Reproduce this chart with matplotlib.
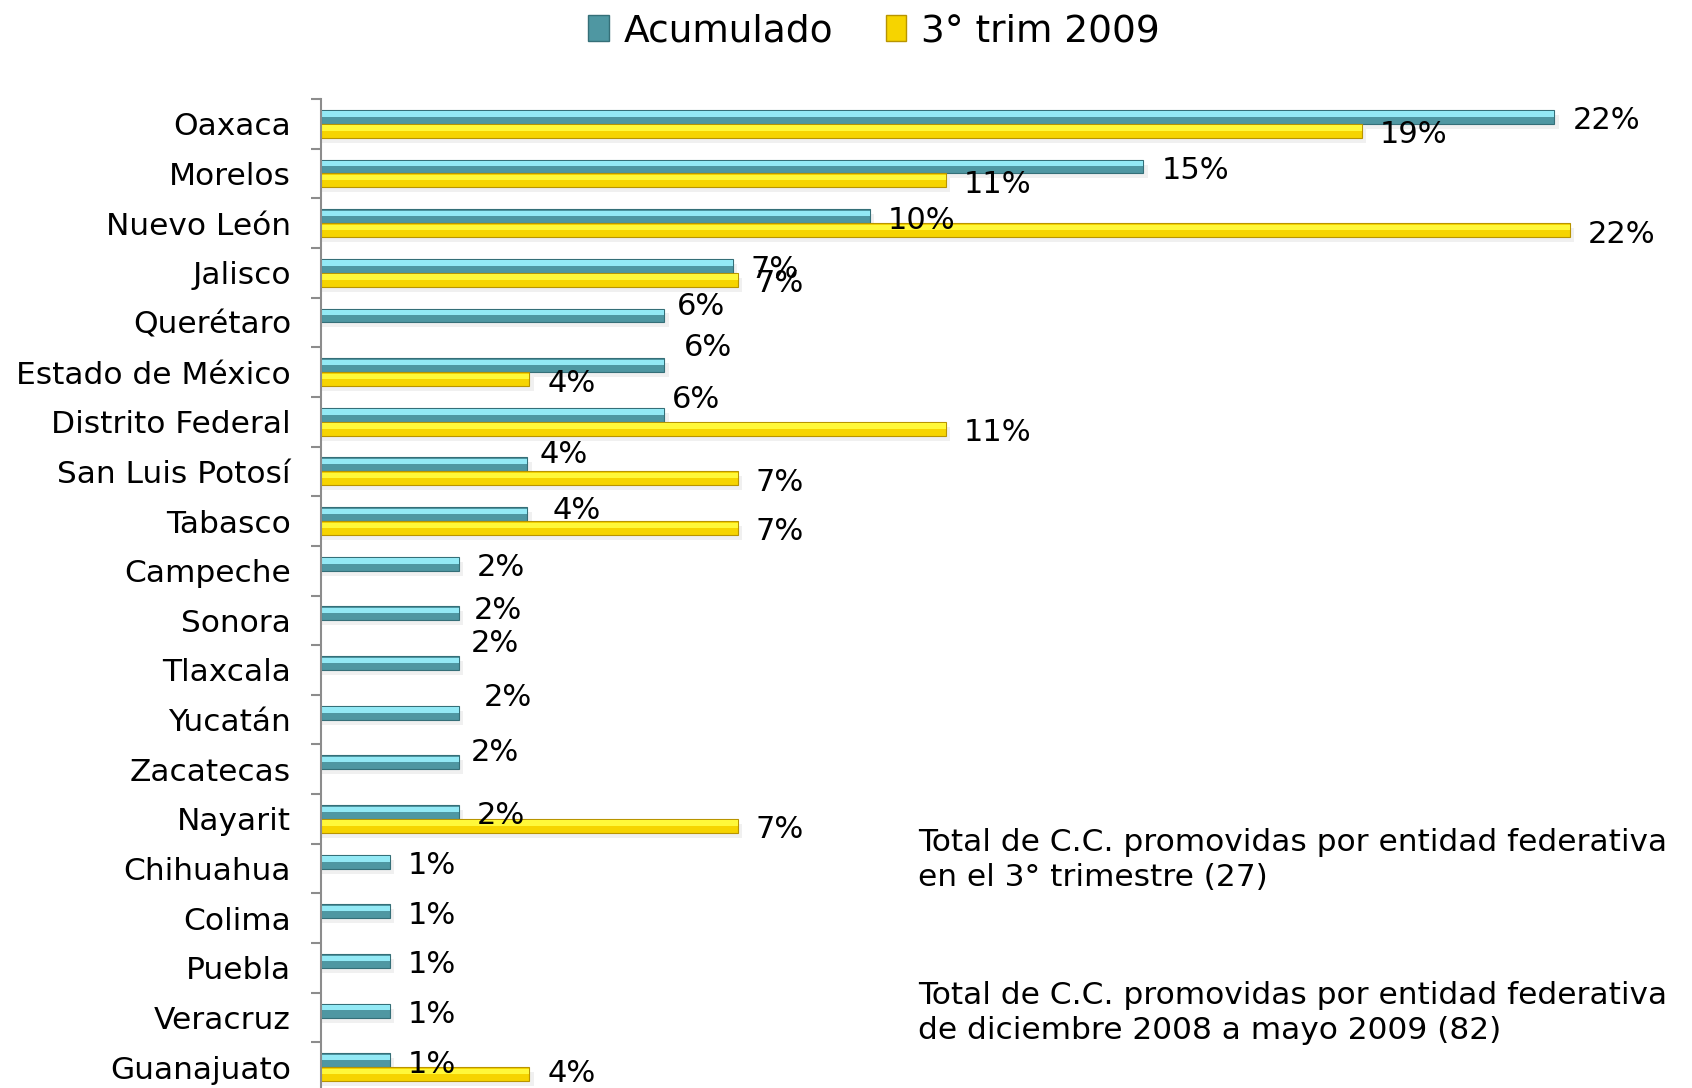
import matplotlib.pyplot as plt, numpy as np
from matplotlib.patches import Patch

plt.rcParams['font.family'] = ['DejaVu Sans']

estados = ["Oaxaca", "Morelos", "Nuevo León", "Jalisco", "Querétaro",
           "Estado de México", "Distrito Federal", "San Luis Potosí", "Tabasco",
           "Campeche", "Sonora", "Tlaxcala", "Yucatán", "Zacatecas", "Nayarit",
           "Chihuahua", "Colima", "Puebla", "Veracruz", "Guanajuato"]
# percentages
acumulado = [21.95, 14.63, 9.76, 7.32, 6.10, 6.10, 6.10, 3.66, 3.66, 2.44,
             2.44, 2.44, 2.44, 2.44, 2.44, 1.22, 1.22, 1.22, 1.22, 1.22]
trim3 = [18.52, 11.11, 22.22, 7.41, 0, 3.70, 11.11, 7.41, 7.41, 0,
         0, 0, 0, 0, 7.41, 0, 0, 0, 0, 3.70]
series_names = ["Acumulado", "3° trim 2009"]
nota1 = "Total de C.C. promovidas por entidad federativa\nen el 3° trimestre (27)"
nota2 = "Total de C.C. promovidas por entidad federativa\nde diciembre 2008 a mayo 2009 (82)"

# irregular label placement of the original (pixel offsets dx, dy)
nudge_acum = {4: (13, 9), 5: (20, 18), 6: (8, 15), 7: (13, 10), 8: (26, 4),
              10: (15, 3), 11: (12, 20), 12: (25, 15), 13: (12, 10)}
nudge_trim = {19: (18, 1)}

teal = ("#4f97a2", "#93e9f5", "#356f78")
yellow = ("#f6d400", "#fff83a", "#b89400")

fig = plt.figure(figsize=(16.92, 10.88), dpi=100)
ax = fig.add_axes([0.190, -0.0037, 0.810, 0.9127])

y = np.arange(len(estados))
h = 0.28

def draw(vals, off, cols):
    vals = np.array(vals, dtype=float)
    m = vals > 0
    yy = y[m] + off
    # faint shadow
    ax.barh(yy + 0.10, vals[m] + 0.08, height=h, color="#000000", alpha=0.06, lw=0)
    ax.barh(yy, vals[m], height=h, color=cols[0], edgecolor=cols[2], linewidth=0.8)
    ax.barh(yy - h * 0.2, vals[m], height=h * 0.38, color=cols[1], lw=0)

draw(acumulado, -h / 2, teal)
draw(trim3, h / 2, yellow)

for i, v in enumerate(acumulado):
    dx, dy = nudge_acum.get(i, (18, -4))
    ax.annotate(f"{v:.0f}%", (v, i - h / 2), xytext=(dx, dy), textcoords="offset pixels",
                ha="left", va="center", fontsize=22, color="black")
for i, v in enumerate(trim3):
    if v > 0:
        dx, dy = nudge_trim.get(i, (18, -4))
        ax.annotate(f"{v:.0f}%", (v, i + h / 2), xytext=(dx, dy), textcoords="offset pixels",
                    ha="left", va="center", fontsize=22, color="black")

ax.set_xlim(0, 24.4)
ax.set_ylim(len(estados) - 0.5, -0.5)
ax.set_yticks(y)
ax.set_yticklabels(estados, fontsize=22.5)
ax.set_yticks(np.arange(len(estados) + 1) - 0.5, minor=True)
ax.tick_params(axis="y", which="major", length=0, pad=22)
ax.tick_params(axis="y", which="minor", length=7, width=1.5, color="#8c8c8c")
ax.set_xticks([])
for s in ["top", "right", "bottom"]:
    ax.spines[s].set_visible(False)
ax.spines["left"].set_color("#8c8c8c")
ax.spines["left"].set_linewidth(1.5)

fig.text(918 / 1692, 1 - 860 / 1088, nota1, fontsize=22.5, va="center", ha="left", linespacing=1.25)
fig.text(918 / 1692, 1 - 1013 / 1088, nota2, fontsize=22.5, va="center", ha="left", linespacing=1.25)

handles = [Patch(facecolor=teal[0], edgecolor=teal[2]), Patch(facecolor=yellow[0], edgecolor=yellow[2])]
fig.legend(handles, series_names, loc="center", bbox_to_anchor=(874 / 1692, 1 - 31 / 1088),
           ncol=2, frameon=False, fontsize=27, handlelength=0.55, handleheight=0.7,
           handletextpad=0.4, columnspacing=1.4)

plt.savefig("out.png", dpi=100)
